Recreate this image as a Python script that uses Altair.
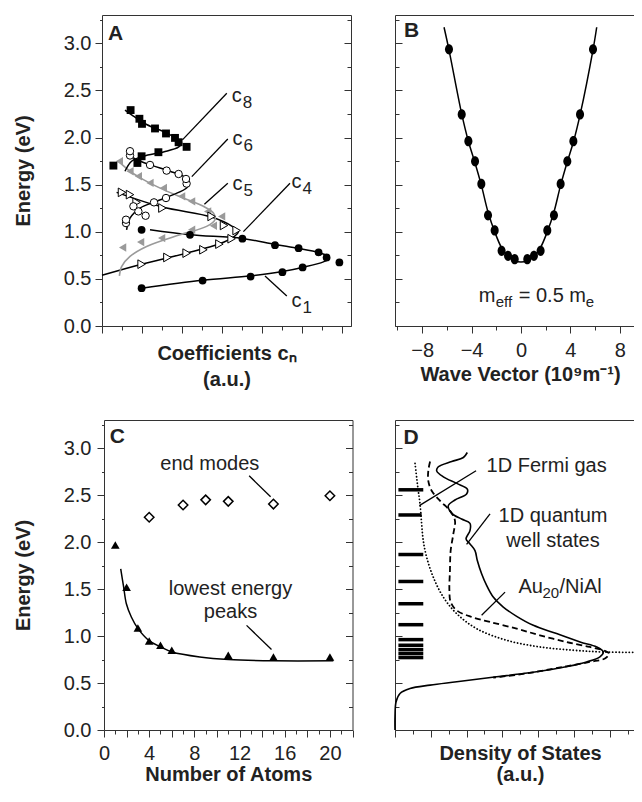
import altair as alt
import pandas as pd

FONT = "Liberation Sans"
INK = "#222222"
FRAME = "#333333"
GRAY = "#9a9a9a"
W, H = 626, 778  # whole drawing area (page coordinates minus the 8px margin)

# ---------------- Panel A : energy vs coefficients ----------------
c1_x = [1.98, 5.03, 7.43, 9.02, 10.03, 11.23, 11.87, 10.83, 9.83, 8.65, 7.02, 4.40, 1.98]
c1_y = [0.401, 0.482, 0.525, 0.571, 0.621, 0.727, 0.674, 0.780, 0.826, 0.858, 0.926, 0.968, 1.021]
c1_fit_x = [2.40, 4.40, 7.02, 8.65, 9.83, 10.83, 11.27, 11.37, 11.07, 10.07, 9.02, 7.43, 5.03, 1.98]
c1_fit_y = [1.021, 0.968, 0.929, 0.865, 0.823, 0.780, 0.745, 0.716, 0.681, 0.624, 0.578, 0.532, 0.486, 0.401]

c4_x = [1.98, 3.27, 4.23, 5.07, 5.87, 6.48, 6.73, 6.10, 5.48, 3.02, 1.73, 1.40, 1.00]
c4_y = [0.656, 0.727, 0.773, 0.809, 0.869, 0.926, 1.014, 1.067, 1.163, 1.252, 1.312, 1.394, 1.418]
c4_fit_x = [0.0, 1.98, 4.23, 5.87, 6.57, 6.82, 6.57, 5.48, 3.02, 0.73]
c4_fit_y = [0.539, 0.656, 0.773, 0.872, 0.943, 1.004, 1.050, 1.156, 1.262, 1.418]

c5_x = [1.03, 1.93, 2.98, 4.48, 5.57, 5.98, 5.28, 4.48, 3.98, 3.07, 2.40, 1.82, 1.40, 0.87]
c5_y = [0.833, 0.890, 0.933, 1.021, 1.064, 1.163, 1.216, 1.323, 1.376, 1.465, 1.518, 1.589, 1.642, 1.748]
c5_fit_x = [0.87, 0.98, 1.40, 2.23, 3.90, 5.23, 5.65, 5.57, 5.07, 4.07, 3.07, 2.07, 1.40, 0.87]
c5_fit_y = [0.532, 0.631, 0.738, 0.844, 0.968, 1.057, 1.128, 1.199, 1.270, 1.358, 1.447, 1.553, 1.642, 1.738]

c6_x = [1.20, 1.20, 1.82, 2.18, 1.57, 2.60, 3.20, 4.23, 4.20, 3.83, 3.23, 2.40, 1.40, 1.40]
c6_y = [1.092, 1.128, 1.216, 1.170, 1.270, 1.312, 1.358, 1.511, 1.560, 1.613, 1.649, 1.709, 1.809, 1.855]
c6_fit_x = [1.23, 1.40, 1.90, 2.73, 3.57, 4.23, 4.37, 4.07, 3.40, 2.23, 1.57, 1.32]
c6_fit_y = [1.021, 1.145, 1.252, 1.323, 1.394, 1.465, 1.518, 1.589, 1.642, 1.723, 1.784, 1.837]

c8_x = [1.43, 1.87, 2.00, 2.65, 3.20, 3.65, 3.83, 4.23, 2.82, 1.98, 1.77, 0.57]
c8_y = [2.291, 2.199, 2.145, 2.096, 2.043, 1.996, 1.950, 1.901, 1.844, 1.801, 1.730, 1.702]
c8_fit_x = [1.15, 1.57, 2.23, 3.23, 3.73, 3.98, 3.82, 3.07, 2.07, 1.48, 1.15]
c8_fit_y = [2.291, 2.227, 2.138, 2.050, 1.986, 1.943, 1.897, 1.847, 1.801, 1.748, 1.642]

A_lab_main = ["c", "c", "c", "c", "c"]
A_lab_sub = ["8", "6", "5", "4", "1"]
A_lab_x = [6.49, 6.53, 6.53, 9.48, 9.48]
A_lab_y = [2.381, 1.921, 1.444, 1.462, 0.198]
A_lead_x1 = [6.24, 6.29, 6.29, 9.40, 9.24]
A_lead_y1 = [2.470, 1.985, 1.515, 1.515, 0.318]
A_lead_x2 = [4.02, 4.49, 5.12, 7.07, 8.15]
A_lead_y2 = [1.975, 1.585, 1.292, 1.001, 0.531]

# ---------------- Panel B : dispersion ----------------
B_k = [-5.83, -4.80, -4.26, -3.72, -3.21, -2.67, -2.13, -1.57, -1.05, -0.51,
       0.51, 1.05, 1.59, 2.13, 2.67, 3.21, 3.75, 4.24, 4.78, 5.83]
B_E = [2.936, 2.245, 1.961, 1.748, 1.507, 1.174, 1.014, 0.798, 0.745, 0.709,
       0.709, 0.745, 0.798, 1.014, 1.174, 1.507, 1.748, 1.961, 2.245, 2.936]
B_fit_k = [-6.23, -5.83, -4.8, -4.26, -3.72, -3.2, -2.67, -2.13, -1.57, -1.05, -0.5, 0.0,
           0.5, 1.05, 1.57, 2.13, 2.67, 3.2, 3.72, 4.26, 4.8, 5.83, 6.13]
B_fit_E = [3.17, 2.93, 2.25, 1.96, 1.73, 1.49, 1.21, 1.0, 0.83, 0.74, 0.69, 0.68,
           0.69, 0.74, 0.83, 1.0, 1.21, 1.49, 1.73, 1.96, 2.25, 2.93, 3.17]
B_note_x = [-3.42]
B_note_y = [0.258]

# ---------------- Panel C : size dependence ----------------
C_tri_N = [1, 2, 3, 4, 5, 6, 11, 15, 20]
C_tri_E = [1.97, 1.52, 1.086, 0.948, 0.902, 0.849, 0.796, 0.778, 0.778]
C_dia_N = [4, 7, 9, 11, 15, 20]
C_dia_E = [2.264, 2.395, 2.45, 2.434, 2.405, 2.494]
C_fit_N = [1.48, 1.74, 1.98, 2.42, 3.01, 4.02, 5.02, 6.03, 8.48, 11.02, 15.04, 20.3]
C_fit_E = [1.716, 1.521, 1.344, 1.203, 1.079, 0.948, 0.884, 0.831, 0.778, 0.750, 0.736, 0.736]
C_lab_text = ["end modes", "lowest energy", "peaks"]
C_lab_x = [9.37, 11.2, 11.2]
C_lab_y = [2.83, 1.503, 1.256]
C_lead_x1 = [12.85, 12.62]
C_lead_y1 = [2.706, 1.114]
C_lead_x2 = [14.75, 14.83]
C_lead_y2 = [2.483, 0.856]

# ---------------- Panel D : density of states ----------------
D_solid_x = [4.04, 3.82, 3.17, 2.42, 2.33, 2.70, 3.45, 4.04, 4.00, 3.35, 2.98, 3.17, 3.72, 4.19,
             4.19, 3.97, 4.19, 4.47, 4.60, 4.84, 5.12, 5.49, 6.05, 6.80, 7.73, 9.03, 10.34, 11.27,
             11.64, 11.45, 10.71, 9.03, 7.17, 5.68, 3.45, 1.96, 0.84, 0.28, 0.06, 0.0, 0.0]
D_solid_y = [2.954, 2.901, 2.858, 2.802, 2.759, 2.695, 2.625, 2.565, 2.512, 2.448, 2.388, 2.306,
             2.246, 2.200, 2.122, 2.034, 1.981, 1.910, 1.804, 1.663, 1.539, 1.415, 1.309, 1.210,
             1.114, 1.026, 0.937, 0.884, 0.831, 0.778, 0.725, 0.654, 0.601, 0.566, 0.513, 0.478,
             0.442, 0.389, 0.301, 0.141, 0.0]
D_dash_x = [1.96, 1.86, 1.86, 2.05, 2.51, 3.07, 3.35, 3.26, 3.11, 3.07, 3.04, 3.11, 3.45, 4.28,
            5.31, 6.80, 8.10, 9.59, 10.89, 11.73, 11.97, 11.73, 10.89, 9.40, 7.54, 5.87, 5.49]
D_dash_y = [2.858, 2.759, 2.653, 2.547, 2.441, 2.335, 2.229, 2.087, 1.910, 1.698, 1.486, 1.362,
            1.273, 1.203, 1.150, 1.079, 1.008, 0.937, 0.884, 0.842, 0.814, 0.761, 0.725, 0.672,
            0.608, 0.566, 0.559]
D_dot_x = [1.12, 1.21, 1.30, 1.40, 1.49, 1.58, 1.77, 2.14, 2.70, 3.45, 4.56, 6.24, 8.10, 9.96,
           11.64, 13.97]
D_dot_y = [2.837, 2.688, 2.547, 2.405, 2.193, 2.016, 1.839, 1.627, 1.415, 1.238, 1.079, 0.955,
           0.884, 0.849, 0.831, 0.826]
D_bar_E = [2.557, 2.289, 1.868, 1.581, 1.344, 1.121, 0.962, 0.902, 0.856, 0.814, 0.771]
D_bar_x1 = [0.19] * 11
D_bar_x2 = [1.58, 1.49, 1.58, 1.58, 1.58, 1.58, 1.58, 1.58, 1.58, 1.58, 1.58]
D_lab_text = ["1D Fermi gas", "1D quantum", "well states"]
D_lab_x = [5.12, 8.83, 8.83]
D_lab_y = [2.813, 2.282, 2.017]
D_au_x = [6.9]
D_au_y = [1.521]
D_lead_x1 = [4.53, 5.31, 6.15]
D_lead_y1 = [2.760, 2.300, 1.468]
D_lead_x2 = [1.36, 4.00, 4.84]
D_lead_y2 = [2.389, 1.975, 1.221]

# ---------------- helpers ----------------
def tbl(xs, ys):
    return pd.DataFrame({"x": xs, "y": ys, "i": list(range(len(xs)))})


def XY(sx, sy):
    return dict(x=alt.X("x:Q", scale=sx, axis=None), y=alt.Y("y:Q", scale=sy, axis=None))


def pts(xs, ys, sx, sy, **mk):
    return alt.Chart(tbl(xs, ys)).mark_point(opacity=1, **mk).encode(**XY(sx, sy))


def line(xs, ys, sx, sy, **mk):
    return alt.Chart(tbl(xs, ys)).mark_line(interpolate="catmull-rom", **mk).encode(
        order=alt.Order("i:Q"), **XY(sx, sy))


def txt(xs, ys, texts, sx, sy, **mk):
    d = pd.DataFrame({"x": xs, "y": ys, "t": texts})
    opts = dict(font=FONT, color=INK, fontSize=20)
    opts.update(mk)
    return alt.Chart(d).mark_text(**opts).encode(text="t:N", **XY(sx, sy))


def segs(x1, y1, x2, y2, sx, sy, **mk):
    d = pd.DataFrame({"x": x1, "y": y1, "x2": x2, "y2": y2})
    return alt.Chart(d).mark_rule(color="black", strokeWidth=1.3, **mk).encode(
        x2="x2:Q", y2="y2:Q", **XY(sx, sy))


def frame(xdom, ydom, xr, yr, xmaj, xmin, ymaj, ymin, yin, xax, yax):
    """xr = (left, right), yr = (top, bottom) of the panel's plot box, in pixels."""
    d = pd.DataFrame({"x": [xdom[0]], "y": [ydom[0]]})
    sx = alt.Scale(domain=xdom, range=[xr[0], xr[1]], nice=False, zero=False)
    sy = alt.Scale(domain=ydom, range=[yr[1], yr[0]], nice=False, zero=False)
    off_b, off_t, off_l, off_r = yr[1] - H, -yr[0], -xr[0], xr[1] - W
    com = dict(grid=False, domainColor=FRAME, domainWidth=1, tickColor=FRAME, tickWidth=1,
               labelFont=FONT, labelFontSize=20, labelColor=INK, labelFlush=False,
               labelOverlap=False, titleFont=FONT, titleFontSize=20, titleFontWeight="bold",
               titleColor=INK)
    bmaj = alt.Axis(orient="bottom", offset=off_b, values=xmaj, tickSize=7, **com, **xax)
    lmaj = alt.Axis(orient="left", offset=off_l, values=ymaj,
                    tickSize=({"expr": "-7"} if yin else 7), **com, **yax)
    bmin = alt.Axis(orient="bottom", offset=off_b, values=xmin, tickSize=4, labels=False,
                    domain=False, title=None, **com)
    lmin = alt.Axis(orient="left", offset=off_l, values=ymin,
                    tickSize=({"expr": "-4"} if yin else 2.5), labels=False, domain=False,
                    title=None, **com)
    top = alt.Axis(orient="top", offset=off_t, ticks=False, labels=False, domain=True,
                   title=None, **com)
    rmaj = alt.Axis(orient="right", offset=off_r, values=ymaj, tickSize={"expr": "-7"},
                    labels=False, domain=True, title=None, **com)
    rmin = alt.Axis(orient="right", offset=off_r, values=ymin, tickSize={"expr": "-4"},
                    labels=False, domain=False, title=None, **com)
    base = alt.Chart(d).mark_point(opacity=0, size=1)
    layers = [
        base.encode(x=alt.X("x:Q", scale=sx, axis=bmaj), y=alt.Y("y:Q", scale=sy, axis=lmaj)),
        base.encode(x=alt.X("x:Q", scale=sx, axis=bmin), y=alt.Y("y:Q", scale=sy, axis=lmin)),
        base.encode(x=alt.X("x:Q", scale=sx, axis=top), y=alt.Y("y:Q", scale=sy, axis=rmaj)),
        base.encode(x=alt.X("x:Q", scale=sx, axis=None), y=alt.Y("y:Q", scale=sy, axis=rmin)),
    ]
    return layers, sx, sy


E_DOM = [0, 3.3]
E_MAJ = [0.0, 0.5, 1.0, 1.5, 2.0, 2.5, 3.0]
E_MIN = [0.25, 0.75, 1.25, 1.75, 2.25, 2.75, 3.25]
ELLIPSE = "M0,-1A0.78,1,0,1,1,0,1A0.78,1,0,1,1,0,-1Z"
TOP_ROW = (7, 318)
BOT_ROW = (412, 722)

# ---------------- Panel A ----------------
fa, sx, sy = frame([0, 12.45], E_DOM, (94, 343), TOP_ROW, list(range(0, 13, 2)),
                   list(range(1, 13, 2)), E_MAJ, E_MIN, False,
                   dict(labels=False, title=["Coefficients c\u2099", "(a.u.)"], titlePadding=10,
                        titleLineHeight=26),
                   dict(format=".1f", labelPadding=4, title="Energy (eV)", titlePadding=30))
A = alt.layer(
    *fa,
    line(c1_fit_x, c1_fit_y, sx, sy, color="black", strokeWidth=1.5),
    line(c4_fit_x, c4_fit_y, sx, sy, color="black", strokeWidth=1.5),
    line(c5_fit_x, c5_fit_y, sx, sy, color=GRAY, strokeWidth=1.6),
    line(c6_fit_x, c6_fit_y, sx, sy, color="black", strokeWidth=1.5),
    line(c8_fit_x, c8_fit_y, sx, sy, color="black", strokeWidth=1.5),
    pts(c5_x, c5_y, sx, sy, shape="triangle-left", filled=True, color=GRAY, size=70),
    pts(c4_x, c4_y, sx, sy, shape="triangle-right", filled=True, fill="white", stroke="black",
        strokeWidth=1, size=75),
    pts(c6_x, c6_y, sx, sy, shape="circle", filled=True, fill="white", stroke="black",
        strokeWidth=1, size=55),
    pts(c1_x, c1_y, sx, sy, shape="circle", filled=True, color="black", size=60),
    pts(c8_x, c8_y, sx, sy, shape="square", filled=True, color="black", size=62),
    segs(A_lead_x1, A_lead_y1, A_lead_x2, A_lead_y2, sx, sy),
    txt(A_lab_x, A_lab_y, A_lab_main, sx, sy, align="left", baseline="alphabetic"),
    txt(A_lab_x, A_lab_y, A_lab_sub, sx, sy, align="left", baseline="alphabetic", dx=11, dy=6,
        fontSize=17),
    txt([0.3], [3.036], ["A"], sx, sy, align="left", baseline="alphabetic", fontWeight="bold",
        fontSize=21),
).resolve_axis(x="independent", y="independent")

# ---------------- Panel B ----------------
fb, sx, sy = frame([-10.2, 10.04], E_DOM, (387, 637), TOP_ROW, [-8, -4, 0, 4, 8],
                   [-10, -6, -2, 2, 6, 10], E_MAJ, E_MIN, True,
                   dict(labels=True, format="d", labelPadding=7,
                        title="Wave Vector (10\u2079m\u207b\u00b9)", titlePadding=4),
                   dict(labels=False, title=None))
B = alt.layer(
    *fb,
    line(B_fit_k, B_fit_E, sx, sy, color="black", strokeWidth=1.5),
    pts(B_k, B_E, sx, sy, shape=ELLIPSE, filled=True, color="black", size=105),
    txt(B_note_x, B_note_y, ["m"], sx, sy, align="left", baseline="alphabetic"),
    txt(B_note_x, B_note_y, ["eff"], sx, sy, align="left", baseline="alphabetic", dx=17, dy=5,
        fontSize=15),
    txt(B_note_x, B_note_y, ["= 0.5 m"], sx, sy, align="left", baseline="alphabetic", dx=40),
    txt(B_note_x, B_note_y, ["e"], sx, sy, align="left", baseline="alphabetic", dx=107, dy=5,
        fontSize=15),
    txt([-9.47], [3.065], ["B"], sx, sy, align="left", baseline="alphabetic", fontWeight="bold",
        fontSize=21),
).resolve_axis(x="independent", y="independent")

# ---------------- Panel C ----------------
fc, sx, sy = frame([0, 22], E_DOM, (96, 344.5), BOT_ROW, list(range(0, 23, 2)),
                   list(range(1, 23, 2)), E_MAJ, E_MIN, False,
                   dict(labels=True, format="d", labelPadding=6,
                        labelExpr="datum.value % 4 === 0 ? datum.label : ''",
                        title="Number of Atoms", titlePadding=1.5),
                   dict(format=".1f", labelPadding=6, title="Energy (eV)", titlePadding=30))
C = alt.layer(
    *fc,
    line(C_fit_N, C_fit_E, sx, sy, color="black", strokeWidth=1.5),
    pts(C_tri_N, C_tri_E, sx, sy, shape="triangle-up", filled=True, color="black", size=75),
    pts(C_dia_N, C_dia_E, sx, sy, shape="diamond", filled=True, fill="white", stroke="black",
        strokeWidth=1.5, size=90),
    segs(C_lead_x1, C_lead_y1, C_lead_x2, C_lead_y2, sx, sy),
    txt(C_lab_x, C_lab_y, C_lab_text, sx, sy, align="center", baseline="middle"),
    txt([0.5], [3.05], ["C"], sx, sy, align="left", baseline="alphabetic", fontWeight="bold",
        fontSize=21),
).resolve_axis(x="independent", y="independent")

# ---------------- Panel D ----------------
fd, sx, sy = frame([0, 13.97], E_DOM, (387, 637), BOT_ROW, list(range(0, 14, 2)),
                   list(range(1, 14, 2)), E_MAJ, E_MIN, True,
                   dict(labels=False, title=["Density of States", "(a.u.)"], titlePadding=6,
                        titleLineHeight=21),
                   dict(labels=False, title=None))
bars = pd.DataFrame({"x": D_bar_x1, "x2": D_bar_x2, "y": D_bar_E})
D = alt.layer(
    *fd,
    alt.Chart(bars).mark_rule(color="black", strokeWidth=3.5, strokeCap="butt").encode(
        x2="x2:Q", **XY(sx, sy)),
    line(D_dot_x, D_dot_y, sx, sy, color="black", strokeWidth=1.8, strokeDash=[0.1, 3.2],
         strokeCap="round"),
    line(D_dash_x, D_dash_y, sx, sy, color="black", strokeWidth=1.8, strokeDash=[6, 3.5]),
    line(D_solid_x, D_solid_y, sx, sy, color="black", strokeWidth=1.6),
    segs(D_lead_x1, D_lead_y1, D_lead_x2, D_lead_y2, sx, sy),
    txt(D_lab_x[:1], D_lab_y[:1], D_lab_text[:1], sx, sy, align="left", baseline="middle"),
    txt(D_lab_x[1:], D_lab_y[1:], D_lab_text[1:], sx, sy, align="center", baseline="middle"),
    txt(D_au_x, D_au_y, ["Au"], sx, sy, align="left", baseline="middle"),
    txt(D_au_x, D_au_y, ["20"], sx, sy, align="left", baseline="middle", dx=24, dy=6, fontSize=15),
    txt(D_au_x, D_au_y, ["/NiAl"], sx, sy, align="left", baseline="middle", dx=41),
    txt([0.47], [3.04], ["D"], sx, sy, align="left", baseline="alphabetic", fontWeight="bold",
        fontSize=21),
).resolve_axis(x="independent", y="independent")

chart = alt.layer(A, B, C, D).resolve_scale(
    x="independent", y="independent"
).resolve_axis(
    x="independent", y="independent"
).properties(
    width=W, height=H, padding={"left": 0, "top": 0, "right": 0, "bottom": 0},
    autosize=alt.AutoSizeParams(type="none")
).configure_view(stroke=None)

chart.save("out.html", embed_options={"renderer": "svg", "actions": False})
